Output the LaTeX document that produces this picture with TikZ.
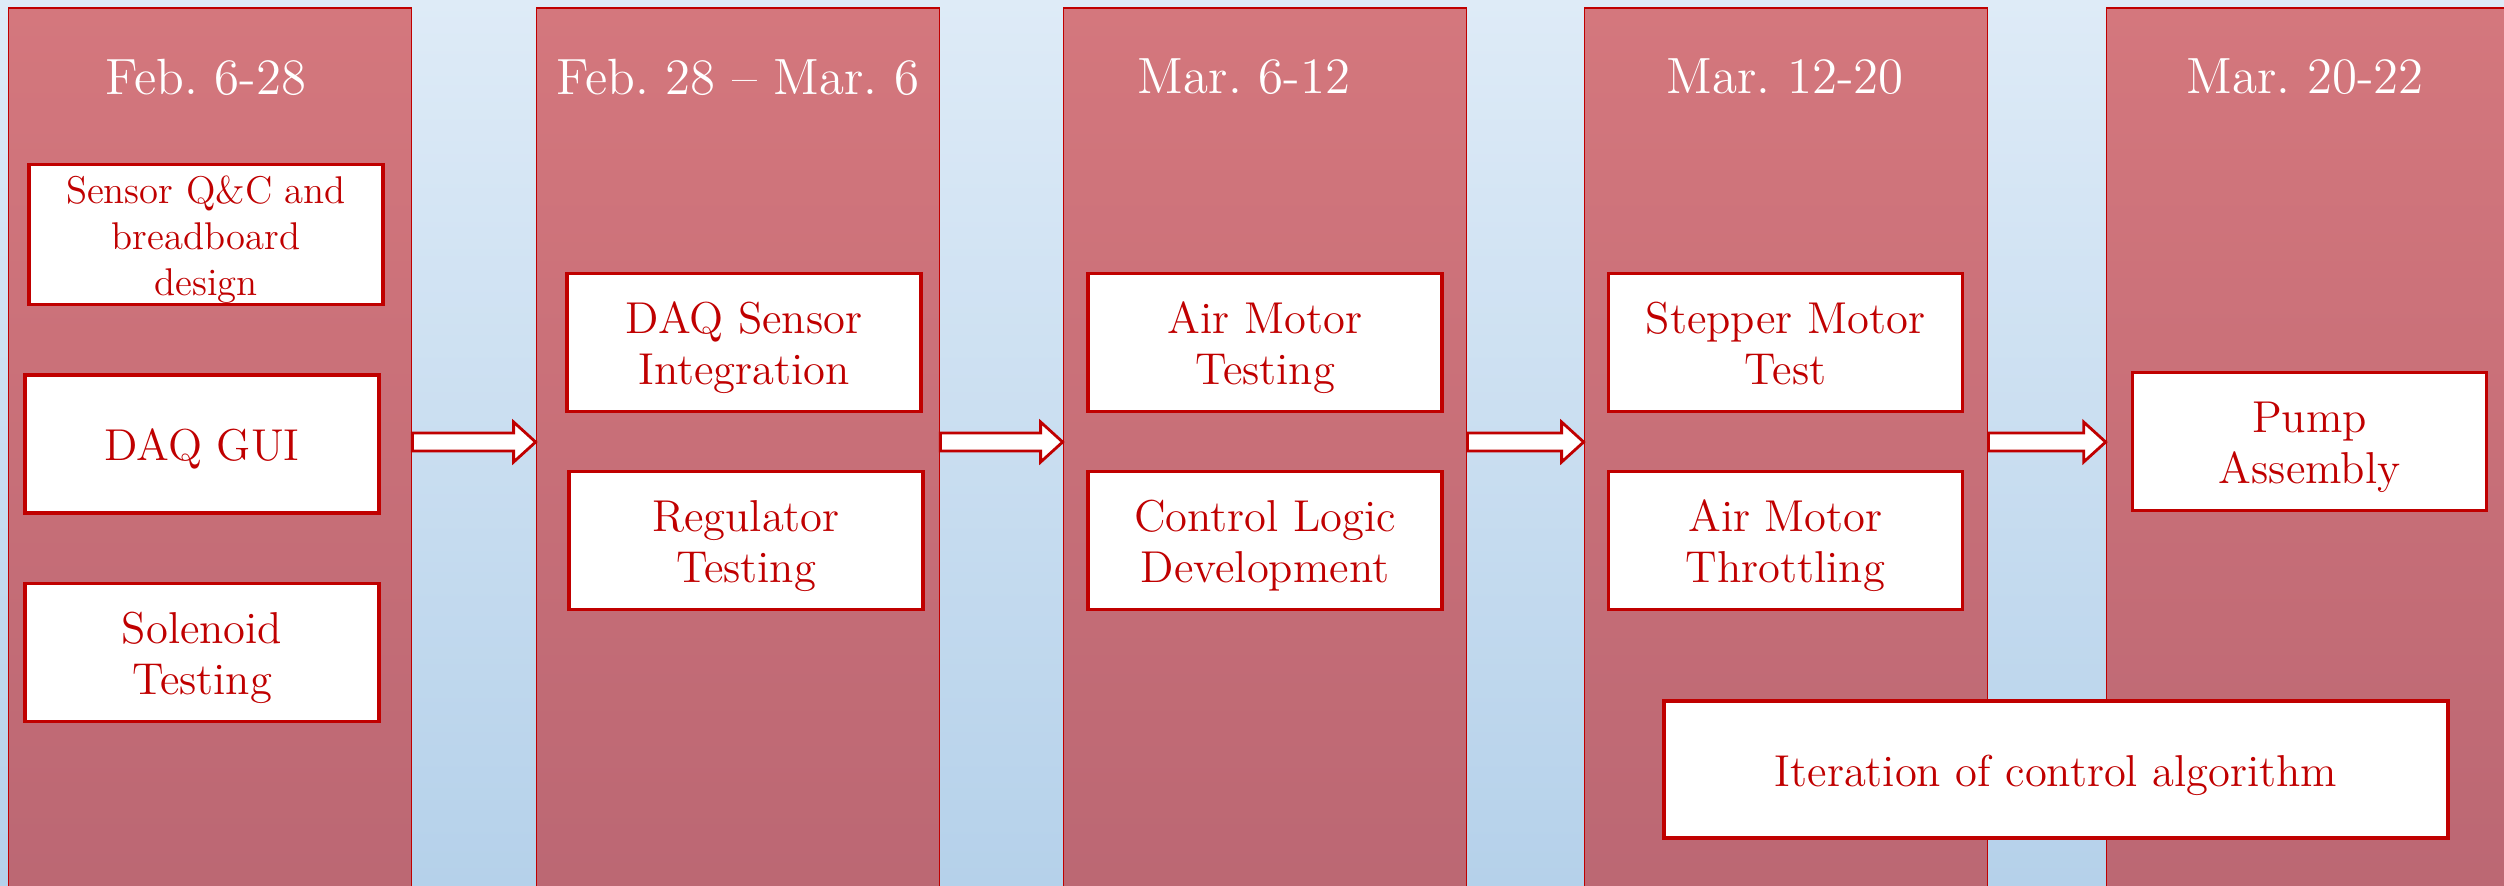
\documentclass[tikz,border=0pt]{standalone}
\usepackage{fontspec}
\usetikzlibrary{calc}
\frenchspacing

\definecolor{bgtop}{RGB}{222,235,247}
\definecolor{bgbot}{RGB}{181,209,234}
\definecolor{coltop}{RGB}{212,119,125}
\definecolor{colbot}{RGB}{187,103,115}
\definecolor{darkred}{RGB}{192,0,0}

\tikzset{
  stage/.style={draw=darkred,line width=0.5pt,top color=coltop,bottom color=colbot,
    minimum width=4.03cm,minimum height=9cm,anchor=north,inner sep=0pt},
  heading/.style={text=white,font=\fontsize{14.5}{17}\selectfont},
  task/.style={draw=darkred,line width=0.9pt,fill=white,text=darkred,align=center,
    minimum width=3.54cm,minimum height=1.38cm,inner sep=0pt,
    text height=12.7pt,text depth=3.2pt,
    font=\fontsize{12.7}{14.5}\selectfont},
  twoline/.style={text height=27.2pt},
  blockarrow/.style={draw=darkred,line width=0.8pt,fill=white,line join=miter},
}

% block arrow from the right side of one stage to the left side of the next
\newcommand{\stagearrow}[2]{%
  \draw[blockarrow] ($(#1.north east)+(0,-4.26)$)
    -- ($(#2.north west)+(-0.22,-4.26)$) -- ($(#2.north west)+(-0.22,-4.15)$)
    -- ($(#2.north west)+(0,-4.35)$)
    -- ($(#2.north west)+(-0.22,-4.55)$) -- ($(#2.north west)+(-0.22,-4.44)$)
    -- ($(#1.north east)+(0,-4.44)$) -- cycle;}

\begin{document}
\begin{tikzpicture}
\useasboundingbox (0,0) rectangle (25.04,-8.85);
\clip (0,0) rectangle (25.04,-8.85);
\shade[top color=bgtop,bottom color=bgbot] (0,0) rectangle (25.04,-8.85);

% stages
\node[stage] (s1) at (2.10,-0.07) {};
\node[stage] (s2) at (7.38,-0.07) {};
\node[stage] (s3) at (12.65,-0.07) {};
\node[stage] (s4) at (17.86,-0.07) {};
\node[stage] (s5) at (23.08,-0.07) {};

\node[heading] (h1) at (2.06,-0.77) {Feb. 6-28};
\node[heading] (h2) at (7.38,-0.77) {Feb. 28 -- Mar. 6};
\node[heading] (h3) at (12.44,-0.77) {Mar. 6-12};
\node[heading] (h4) at (17.85,-0.77) {Mar. 12-20};
\node[heading] (h5) at (23.05,-0.77) {Mar. 20-22};

\stagearrow{s1}{s2}
\stagearrow{s2}{s3}
\stagearrow{s3}{s4}
\stagearrow{s4}{s5}

% tasks
\node[task,font=\fontsize{11}{13}\selectfont,text height=37.25pt,text depth=2.75pt]
    (sensor) at (2.06,-2.345) {Sensor Q\&C and\\breadboard\\design};
\node[task] (gui) at (2.02,-4.44) {DAQ GUI};
\node[task,twoline] (solenoid) at (2.02,-6.525) {Solenoid\\Testing};

\node[task,twoline] (daqint) at (7.44,-3.425) {DAQ Sensor\\Integration};
\node[task,twoline] (regulator) at (7.46,-5.405) {Regulator\\Testing};

\node[task,twoline] (airmotor) at (12.65,-3.425) {Air Motor\\Testing};
\node[task,twoline] (control) at (12.65,-5.405) {Control Logic\\Development};

\node[task,twoline] (stepper) at (17.855,-3.425) {Stepper Motor\\Test};
\node[task,twoline] (throttle) at (17.855,-5.405) {Air Motor\\Throttling};

\node[task,twoline] (pump) at (23.095,-4.415) {Pump\\Assembly};
\node[task,minimum width=7.84cm,minimum height=1.37cm] (iteration) at (20.56,-7.695)
    {Iteration of control algorithm};
\end{tikzpicture}
\end{document}
